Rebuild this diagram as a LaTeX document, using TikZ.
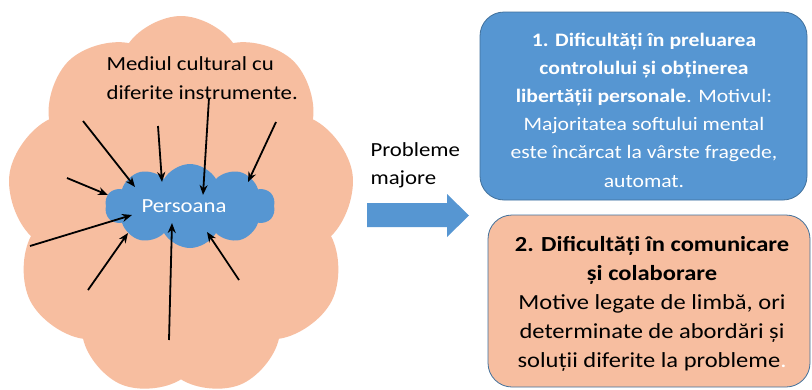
\documentclass[tikz,border=0pt]{standalone}
\usepackage{fontspec}
\setmainfont{Carlito}[FakeStretch=1.14]
\usetikzlibrary{shapes.symbols,arrows.meta}
\definecolor{peach}{RGB}{247,190,160}
\definecolor{mblue}{RGB}{86,150,210}
\definecolor{bblue}{RGB}{65,113,156}
\tikzset{
  ray/.style={draw=black,line width=1.8pt,-{Stealth[length=10pt,width=8pt]}},
  bigcloud/.style={cloud,fill=peach,cloud puffs=9,cloud puff arc=110,minimum width=348pt,minimum height=380pt,inner sep=0pt,shape border rotate=8},
  smallcloud/.style={cloud,fill=mblue,cloud puffs=10,cloud puff arc=120,minimum width=170pt,minimum height=84pt,inner sep=0pt},
  box/.style={rounded corners=24pt,draw=bblue,line width=0.8pt},
}
\begin{document}
\begin{tikzpicture}[x=1pt,y=-1pt]
\useasboundingbox (0,0) rectangle (812,389);
\fill[white] (0,0) rectangle (812,389);
% big cloud
\node[bigcloud] (env) at (181,206) {};
\node[align=left,anchor=north west,font=\fontsize{20}{29}\selectfont] (envtxt) at (103,53) {Mediul cultural cu\\diferite instrumente.};
% small cloud
\node[smallcloud] (pers) at (190,206) {};
\node[text=white,font=\fontsize{20}{24}\selectfont] (perstxt) at (184,206) {Persoana};
% arrows
\coordinate (s1) at (83,121);  \coordinate (e1) at (135,187);
\coordinate (s2) at (158,126); \coordinate (e2) at (162,182);
\coordinate (s3) at (209,98);  \coordinate (e3) at (203,195);
\coordinate (s4) at (276,122); \coordinate (e4) at (248,182);
\coordinate (s5) at (67,178);  \coordinate (e5) at (108,195);
\coordinate (s6) at (30,246);  \coordinate (e6) at (132,215);
\coordinate (s7) at (88,290);  \coordinate (e7) at (128,233);
\coordinate (s8) at (169,340); \coordinate (e8) at (172,223);
\coordinate (s9) at (239,280); \coordinate (e9) at (207,232);
\foreach \i in {1,...,9} \draw[ray] (s\i) -- (e\i);
% middle
\node[align=left,anchor=north west,font=\fontsize{20}{28}\selectfont] (prob) at (367,139) {Probleme\\majore};
\fill[mblue] (367,203) -- (447,203) -- (447,194) -- (469,215.5) -- (447,237) -- (447,227) -- (367,227) -- cycle;
% boxes
\path[box,fill=mblue] (480,12) rectangle (807,200);
\node[text=white,align=center,font=\fontsize{19}{28.2}\selectfont] (b1) at (644,110) {\textbf{1. Dificultăți în preluarea}\\\textbf{controlului și obținerea}\\\textbf{libertății personale}. Motivul:\\Majoritatea softului mental\\este încărcat la vârste fragede,\\automat.};
\path[box,fill=peach] (488,215) rectangle (810,387);
\node[align=center,font=\fontsize{21.5}{28.8}\selectfont] (b2) at (652,304) {\textbf{2. Dificultăți în comunicare}\\\textbf{și colaborare}\\Motive legate de limbă, ori\\determinate de abordări și\\soluții diferite la probleme\textcolor{white}{.}};
\end{tikzpicture}
\end{document}
